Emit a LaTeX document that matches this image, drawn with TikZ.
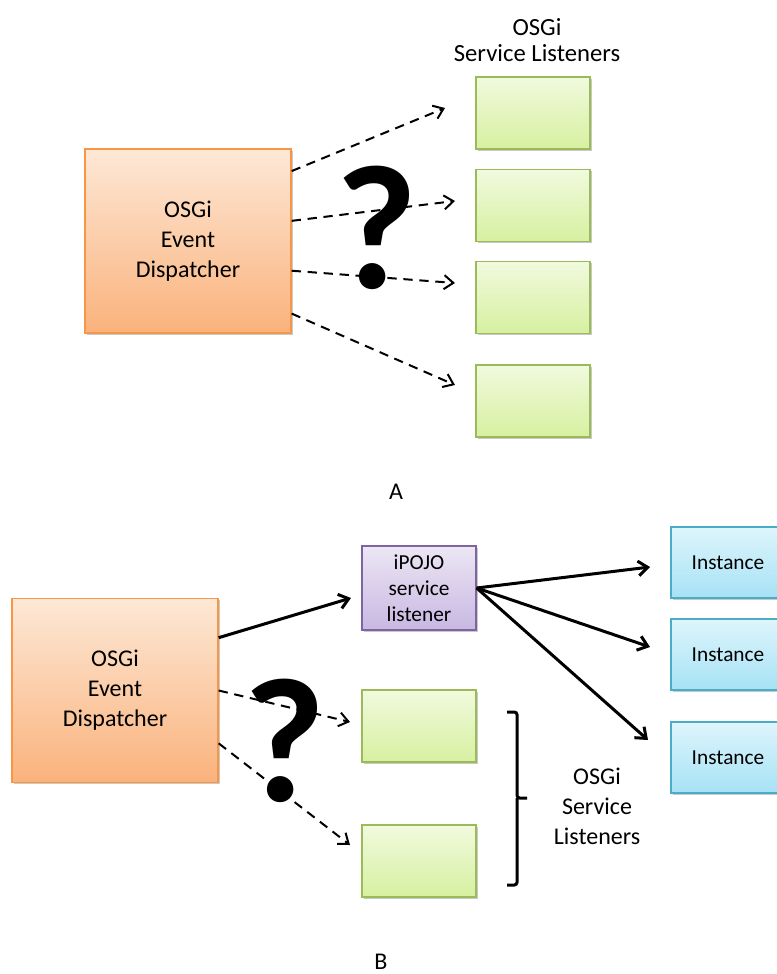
\documentclass[tikz,border=0pt]{standalone}
\usepackage{fontspec}
\setmainfont{Carlito}
\usetikzlibrary{arrows.meta,shadows}

\definecolor{orangeline}{RGB}{247,150,70}
\definecolor{orangetop}{RGB}{253,232,214}
\definecolor{orangebot}{RGB}{250,178,124}
\definecolor{greenline}{RGB}{155,187,89}
\definecolor{greentop}{RGB}{241,250,222}
\definecolor{greenbot}{RGB}{214,240,160}
\definecolor{purpleline}{RGB}{128,100,162}
\definecolor{purpletop}{RGB}{236,230,244}
\definecolor{purplebot}{RGB}{200,184,226}
\definecolor{blueline}{RGB}{75,172,198}
\definecolor{bluetop}{RGB}{222,245,252}
\definecolor{bluebot}{RGB}{166,226,245}

\tikzset{every picture/.style={line width=0.75pt}}
\tikzset{
  box/.style={draw, line width=1pt, inner sep=0pt, align=center,
    drop shadow={shadow xshift=1.2pt, shadow yshift=-1.2pt, opacity=0.3, fill=black!70}},
  dispbox/.style={box, draw=orangeline, top color=orangetop, bottom color=orangebot,
    minimum width=154.5pt, minimum height=138pt, font=\fontsize{18}{22.5}\selectfont},
  lisbox/.style={box, draw=greenline, top color=greentop, bottom color=greenbot,
    minimum width=85.5pt, minimum height=54pt},
  ipojobox/.style={box, draw=purpleline, top color=purpletop, bottom color=purplebot,
    minimum width=85.5pt, minimum height=63pt, font=\fontsize{16}{19.5}\selectfont},
  instbox/.style={box, draw=blueline, top color=bluetop, bottom color=bluebot,
    minimum width=85.5pt, minimum height=53.25pt, font=\fontsize{16}{19.5}\selectfont},
  caption/.style={align=center, inner sep=0pt, font=\fontsize{18}{22.5}\selectfont},
  qmark/.style={inner sep=0pt, font=\fontsize{133}{133}\selectfont\bfseries},
  maybe/.style={line width=1.5pt, dash pattern=on 7pt off 5pt,
    -{Straight Barb[length=7pt,width=10.5pt,line width=1.5pt]}},
  calls/.style={line width=2.25pt,
    -{Straight Barb[length=7pt,width=11pt,line width=2.25pt]}},
}

\begin{document}
\begin{tikzpicture}[x=0.75pt,y=0.75pt,yscale=-1,xscale=1]
\useasboundingbox (0,0) rectangle (777,974);
\clip (0,0) rectangle (777,974);

%%%%%%%% A

% Question mark
\node [qmark] (qA) at (377,228) {?};

% Dispatcher
\node [dispbox] (dispA) at (188,241) {OSGi\\Event\\Dispatcher};

% Listeners
\node [lisbox] (lisA1) at (533,113) {};
\node [lisbox] (lisA2) at (533,205.5) {};
\node [lisbox] (lisA3) at (533,297.5) {};
\node [lisbox] (lisA4) at (533,401) {};
\node [caption, font=\fontsize{18.5}{19}\selectfont] (titleA) at (537,40) {OSGi\\Service Listeners};

% Arrow ends
\coordinate (endA1) at (445,108);
\coordinate (endA2) at (455,201);
\coordinate (endA3) at (455,283);
\coordinate (endA4) at (455,385);

\draw [maybe] (dispA.34.6) -- (endA1);
\draw [maybe] (dispA.11.5) -- (endA2);
\draw [maybe] (dispA.-16.3) -- (endA3);
\draw [maybe] (dispA.-35.7) -- (endA4);

\node [caption] (labA) at (396,492) {A};

%%%%%%%% B

% Question mark
\node [qmark] (qB) at (285,741) {?};

% Dispatcher
\node [dispbox] (dispB) at (115,690.5) {OSGi\\Event\\Dispatcher};

% iPOJO listener and instances
\node [ipojobox] (ipojo) at (419,588) {iPOJO\\service\\listener};
\node [instbox] (inst1) at (728,562.5) {Instance};
\node [instbox] (inst2) at (728,654.5) {Instance};
\node [instbox] (inst3) at (728,757.5) {Instance};

% Listeners
\node [lisbox] (lisB1) at (419,726) {};
\node [lisbox] (lisB2) at (419,861) {};

% Arrow ends
\coordinate (endB0) at (351,598);
\coordinate (endB1) at (350,722);
\coordinate (endB2) at (350,845);
\coordinate (endI1) at (650,567);
\coordinate (endI2) at (650,647);
\coordinate (endI3) at (648,740);

\draw [calls] (dispB.27) -- (endB0);
\draw [maybe] (dispB.east) -- (endB1);
\draw [maybe] (dispB.-27) -- (endB2);
\draw [calls] (ipojo.east) -- (endI1);
\draw [calls] (ipojo.east) -- (endI2);
\draw [calls] (ipojo.east) -- (endI3);

% Bracket
\draw [line width=2.25pt, rounded corners=2pt] (507,712) -- (517,712) -- (517,798) -- (527,798)
  (517,798) -- (517,885) -- (507,885);
\node [caption] (titleB) at (597,806) {OSGi\\Service\\Listeners};

\node [caption] (labB) at (381,962) {B};

\end{tikzpicture}
\end{document}
